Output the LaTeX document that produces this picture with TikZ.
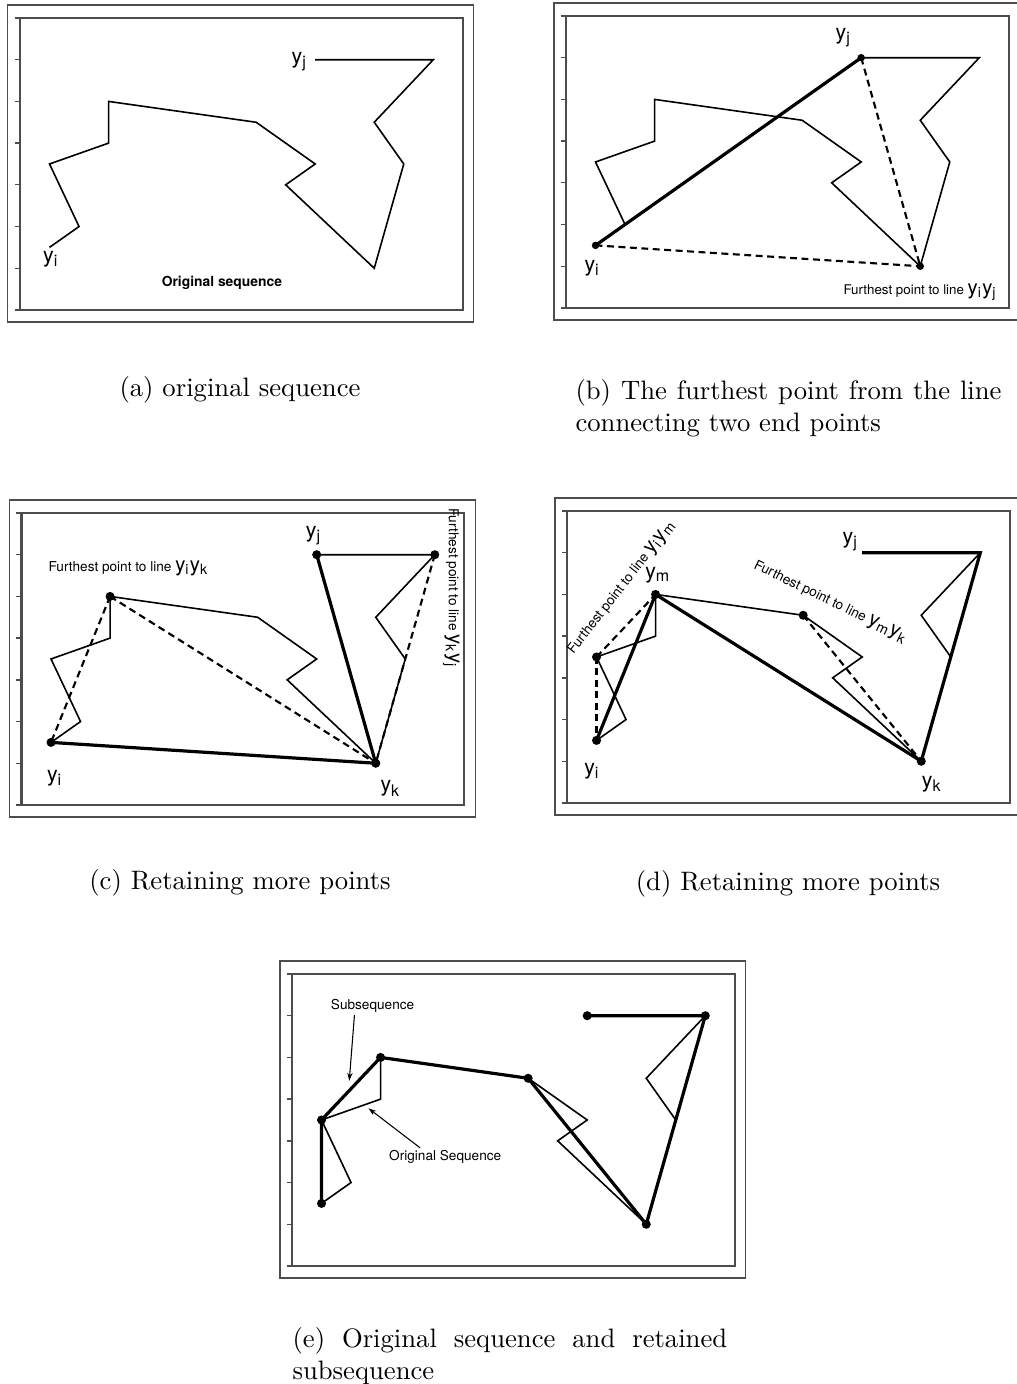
\documentclass[tikz,border=0pt]{standalone}
\usepackage{fontspec}
\newfontfamily\helv{TeX Gyre Heros}
\usetikzlibrary{arrows.meta,calc}
\newcommand{\yy}[1]{y\textsubscript{#1}}
\newcommand{\iny}[2]{{\fontsize{7.6}{8}\selectfont\yy{#1}\yy{#2}}}
% frame, ticks and the thirteen points of the sequence (data units)
\newcommand{\panelbase}{%
  \draw[outer] (-0.41,-0.31) rectangle (15.37,7.29);
  \draw[inner] (0,0) rectangle (15,7);
  \foreach \k in {0,...,7} \draw[inner, line width=0.5pt] (0,\k) -- ++(-0.18,0);
  \foreach \px/\py [count=\i] in {1/5.5,2/5,1/3.5,3/3,3/2,8/2.5,10/3.5,9/4,12/6,13/3.5,12/2.5,14/1,10/1}
    \coordinate (p\i) at (\px,\py);
  \draw[seq] (p1) \foreach \i in {2,...,13} {-- (p\i)};
}
\begin{document}
\begin{tikzpicture}[x=0.375pt, y=-0.375pt,
    inner/.style={draw=black!70, line width=0.85pt},
    outer/.style={draw=black!70, line width=0.45pt},
    seq/.style={line width=0.6pt, line join=miter},
    keep/.style={line width=1.2pt},
    probe/.style={line width=0.8pt, dash pattern=on 2.6pt off 1.7pt},
    dot/.style={circle, fill, inner sep=0pt, minimum size=3.4pt},
    lab/.style={font=\helv\fontsize{8}{9}\selectfont, inner sep=0pt},
    note/.style={font=\helv\fontsize{5.1}{6}\selectfont, inner sep=0pt},
    captext/.style={font={\normalsize\hyphenpenalty10000\relax}, inner sep=0pt, align=justify},
    pointer/.style={-{Stealth[length=3pt,width=2pt]}, line width=0.4pt}]
  \useasboundingbox (0,0) rectangle (1016,1384);
  \fill[white] (0,0) rectangle (1016,1384);

  % ---------------- (a) original sequence
  \begin{scope}[shift={(20,18)}, x=11.07pt, y=-15.64pt]
    \panelbase
    \node[lab] (ai) at (1.05,5.78) {\yy{i}};
    \node[lab, anchor=east] (aj) at (9.75,1.05) {\yy{j}};
    \node[note, font=\helv\bfseries\fontsize{5.2}{6}\selectfont] (aorig) at (6.84,6.35) {Original sequence};
  \end{scope}
  \node[font=\normalsize] (capa) at (240,390) {(a) original sequence};

  % ---------------- (b) furthest point from yi--yj
  \begin{scope}[shift={(566,16)}, x=11.07pt, y=-15.64pt]
    \panelbase
    \draw[keep] (p1) -- (p13);
    \draw[probe] (p13) -- (p9);
    \draw[probe] (p1) -- (p9);
    \foreach \i in {1,13,9} \node[dot, minimum size=2.8pt] (bd\i) at (p\i) {};
    \node[lab] (bj) at (9.4,0.53) {\yy{j}};
    \node[lab] (bi) at (0.89,6.05) {\yy{i}};
    \node[note, font=\helv\fontsize{5}{6}\selectfont] (bfar) at (12.0,6.63) {Furthest point to line \iny{i}{j}};
  \end{scope}
  \node[captext, text width=159.75pt, anchor=north west] (capb) at (575,379)
       {(b) The furthest point from the line connecting two end points};

  % ---------------- (c) retaining more points
  \begin{scope}[shift={(21.5,513)}, x=11.07pt, y=-15.64pt]
    \panelbase
    \draw[keep] (p1) -- (p9) -- (p13);
    \draw[probe] (p5) -- (p1);
    \draw[probe] (p5) -- (p9);
    \draw[probe] (p12) -- (p9);
    \foreach \i in {1,5,13,12,9} \node[dot] (cd\i) at (p\i) {};
    \node[note, anchor=west] (cfar) at (0.9,1.34) {Furthest point to line \iny{i}{k}};
    \node[note, anchor=west, rotate=-90] (cfar2) at (14.56,-0.13) {Furthest point to line \iny{k}{j}};
    \node[lab] (cj) at (9.9,0.54) {\yy{j}};
    \node[lab] (ci) at (1.13,6.36) {\yy{i}};
    \node[lab] (ck) at (12.5,6.61) {\yy{k}};
  \end{scope}
  \node[font=\normalsize] (capc) at (240,883) {(c) Retaining more points};

  % ---------------- (d) retaining more points
  \begin{scope}[shift={(567,511)}, x=11.07pt, y=-15.64pt]
    \panelbase
    \draw[keep] (p1) -- (p5) -- (p9) -- (p12) -- (p13);
    \draw[probe] (p3) -- (p5);
    \draw[probe] (p3) -- (p1);
    \draw[probe] (p6) -- (p9);
    \foreach \i in {1,3,5,6,9} \node[dot] (dd\i) at (p\i) {};
    \node[note, rotate=52] (dfar) at (1.86,1.84) {Furthest point to line \iny{i}{m}};
    \node[note, rotate=-26] (dfar2) at (8.92,2.19) {Furthest point to line \iny{m}{k}};
    \node[lab] (dj) at (9.6,0.74) {\yy{j}};
    \node[lab] (dm) at (3.08,1.55) {\yy{m}};
    \node[lab] (di) at (0.85,6.23) {\yy{i}};
    \node[lab] (dk) at (12.36,6.55) {\yy{k}};
  \end{scope}
  \node[font=\normalsize] (capd) at (788,884) {(d) Retaining more points};

  % ---------------- (e) original sequence and retained subsequence
  \begin{scope}[shift={(292,974)}, x=11.07pt, y=-15.64pt]
    \panelbase
    \draw[keep] (p1) -- (p3) -- (p5) -- (p6) -- (p9) -- (p12) -- (p13);
    \foreach \i in {1,3,5,6,9,12,13} \node[dot] (ed\i) at (p\i) {};
    \node[note] (esub) at (2.73,0.76) {Subsequence};
    \node[note] (eorig) at (5.19,4.39) {Original Sequence};
    \coordinate (esubtip) at (1.94,2.56);
    \coordinate (eorigtip) at (2.59,3.22);
    \draw[pointer] ([xshift=-6.8pt,yshift=-0.8pt]esub.south) -- (esubtip);
    \draw[pointer] ([xshift=-9.4pt,yshift=0.8pt]eorig.north) -- (eorigtip);
  \end{scope}
  \node[captext, text width=163pt, anchor=north west] (cape) at (292,1327)
       {(e) Original sequence and retained subsequence};
\end{tikzpicture}
\end{document}
